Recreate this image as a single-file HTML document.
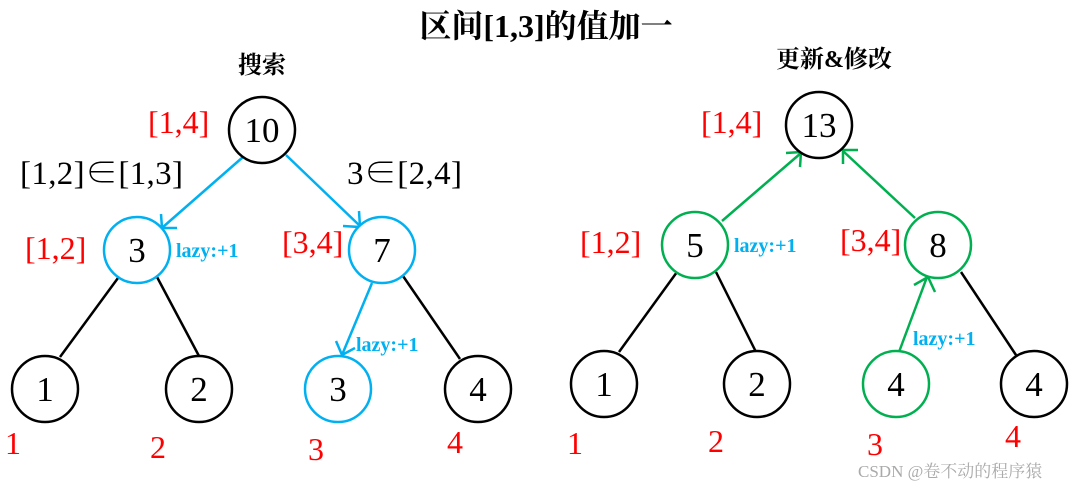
<!DOCTYPE html>
<html><head><meta charset="utf-8"><style>
html,body{margin:0;padding:0;background:#fff;width:1086px;height:491px;overflow:hidden}
svg text{font-family:"Liberation Serif","Noto Serif CJK SC",serif}
</style></head><body>
<svg width="1086" height="491" viewBox="0 0 1086 491" xmlns="http://www.w3.org/2000/svg">
<g fill="none" stroke-width="2.5">
<line x1="243" y1="157" x2="163" y2="227" stroke="#00b0f0"/>
<polyline points="161,214 162,228 177,228" stroke="#00b0f0"/>
<line x1="286" y1="155" x2="360" y2="226" stroke="#00b0f0"/>
<polyline points="343,226 360,227 359,211" stroke="#00b0f0"/>
<line x1="118" y1="278" x2="60" y2="357" stroke="#000"/>
<line x1="157" y1="277" x2="199" y2="356" stroke="#000"/>
<line x1="372" y1="283" x2="342" y2="355" stroke="#00b0f0"/>
<polyline points="336,341 342,355 355,348" stroke="#00b0f0"/>
<line x1="403" y1="276" x2="460" y2="359" stroke="#000"/>
<line x1="722" y1="221" x2="801" y2="153" stroke="#00b050"/>
<polyline points="786,153 801,152 800,167" stroke="#00b050"/>
<line x1="915" y1="218" x2="843" y2="151" stroke="#00b050"/>
<polyline points="843,164 843,150 858,150" stroke="#00b050"/>
<line x1="677" y1="272" x2="619" y2="352" stroke="#000"/>
<line x1="716" y1="272" x2="756" y2="352" stroke="#000"/>
<line x1="899" y1="352" x2="927" y2="277" stroke="#00b050"/>
<polyline points="914,285 928,277 935,292" stroke="#00b050"/>
<line x1="961" y1="272" x2="1016" y2="355" stroke="#000"/>
<circle cx="262" cy="130" r="33" stroke="#000" fill="#fff"/>
<circle cx="137" cy="250" r="33" stroke="#00b0f0" fill="#fff"/>
<circle cx="382" cy="250" r="33" stroke="#00b0f0" fill="#fff"/>
<circle cx="45" cy="389" r="33" stroke="#000" fill="#fff"/>
<circle cx="199" cy="389" r="33" stroke="#000" fill="#fff"/>
<circle cx="338" cy="389" r="33" stroke="#00b0f0" fill="#fff"/>
<circle cx="478" cy="389" r="33" stroke="#000" fill="#fff"/>
<circle cx="819" cy="125" r="33" stroke="#000" fill="#fff"/>
<circle cx="695" cy="245" r="33" stroke="#00b050" fill="#fff"/>
<circle cx="938" cy="245" r="33" stroke="#00b050" fill="#fff"/>
<circle cx="604" cy="384" r="33" stroke="#000" fill="#fff"/>
<circle cx="757" cy="384" r="33" stroke="#000" fill="#fff"/>
<circle cx="896" cy="384" r="33" stroke="#00b050" fill="#fff"/>
<circle cx="1034" cy="384" r="33" stroke="#000" fill="#fff"/>
</g>
<g font-size="35" text-anchor="middle" fill="#000">
<text x="262" y="142">10</text><text x="137" y="262">3</text><text x="382" y="262">7</text>
<text x="45" y="401">1</text><text x="199" y="401">2</text><text x="338" y="401">3</text><text x="478" y="401">4</text>
<text x="819" y="137">13</text><text x="695" y="257">5</text><text x="938" y="257">8</text>
<text x="604" y="396">1</text><text x="757" y="396">2</text><text x="896" y="396">4</text><text x="1034" y="396">4</text>
</g>
<text x="546" y="37" font-size="32" font-weight="bold" text-anchor="middle">区间[1,3]的值加一</text>
<text x="262" y="73" font-size="24" font-weight="bold" text-anchor="middle">搜索</text>
<text x="834" y="67" font-size="24" font-weight="bold" text-anchor="middle">更新&amp;修改</text>
<g font-size="33" fill="#000">
<text x="20" y="184" textLength="163">[1,2]∈[1,3]</text>
<text x="347" y="184" textLength="115">3∈[2,4]</text>
</g>
<g font-size="32" fill="#f00">
<text x="148" y="133">[1,4]</text>
<text x="25" y="259">[1,2]</text>
<text x="282" y="253">[3,4]</text>
<text x="701" y="133">[1,4]</text>
<text x="580" y="253">[1,2]</text>
<text x="840" y="251">[3,4]</text>
<text x="5" y="454">1</text><text x="150" y="458">2</text><text x="308" y="460">3</text><text x="447" y="453">4</text>
<text x="567" y="454">1</text><text x="708" y="452">2</text><text x="867" y="455">3</text><text x="1005" y="447">4</text>
</g>
<g font-size="20" font-weight="bold" fill="#00b0f0">
<text x="176" y="257">lazy:+1</text>
<text x="356" y="351">lazy:+1</text>
<text x="734" y="252">lazy:+1</text>
<text x="913" y="345">lazy:+1</text>
</g>
<text x="858" y="477" font-size="17" fill="#aaa" font-family="Liberation Sans,Noto Sans CJK SC,sans-serif">CSDN @卷不动的程序猿</text>
</svg>
</body></html>
